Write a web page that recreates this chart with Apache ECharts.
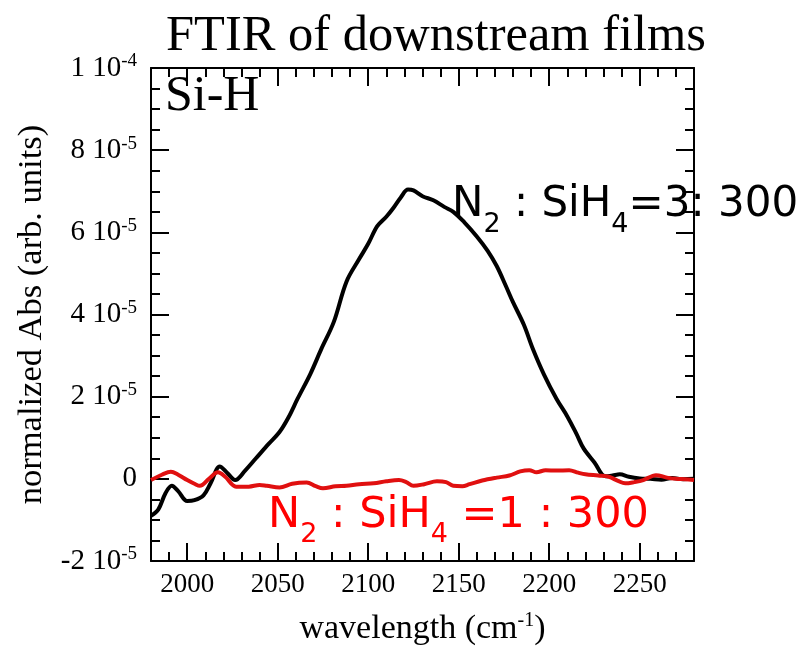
<!DOCTYPE html>
<html>
<head>
<meta charset="utf-8">
<script src="https://cdn.jsdelivr.net/npm/echarts@6/dist/echarts.min.js"></script>
<style>html,body{margin:0;padding:0;background:#fff;}#chart{width:812px;height:651px;}</style>
</head>
<body>
<div id="chart"></div>
<script>
// ---- data ----
const blackX = [1980, 1984, 1988, 1991.5, 1995, 2000, 2004, 2009, 2013, 2018, 2022, 2026.5, 2032, 2038, 2045, 2051, 2056, 2061, 2068, 2074, 2081, 2088, 2095, 2100, 2105, 2110, 2114, 2118, 2122, 2125, 2130, 2136, 2142, 2147, 2153, 2160, 2166, 2171, 2176, 2180, 2186, 2191, 2197, 2204, 2210, 2215, 2219, 2225, 2231, 2235, 2239, 2244, 2250, 2256, 2262, 2268, 2274, 2280];
const blackY = [-0.9e-5, -0.75e-5, -0.35e-5, -0.17e-5, -0.3e-5, -0.54e-5, -0.52e-5, -0.4e-5, -0.1e-5, 0.3e-5, 0.15e-5, -0.03e-5, 0.2e-5, 0.5e-5, 0.85e-5, 1.14e-5, 1.5e-5, 1.95e-5, 2.55e-5, 3.15e-5, 3.82e-5, 4.8e-5, 5.35e-5, 5.72e-5, 6.15e-5, 6.38e-5, 6.6e-5, 6.85e-5, 7.04e-5, 7.02e-5, 6.88e-5, 6.78e-5, 6.62e-5, 6.5e-5, 6.25e-5, 5.9e-5, 5.55e-5, 5.18e-5, 4.7e-5, 4.3e-5, 3.75e-5, 3.16e-5, 2.55e-5, 1.95e-5, 1.52e-5, 1.1e-5, 0.74e-5, 0.4e-5, 0.06e-5, 0.08e-5, 0.11e-5, 0.05e-5, 0.01e-5, 0.0, -0.02e-5, 0.02e-5, -0.01e-5, 0.0];
const redX = [1980, 1986, 1991, 1995, 2000, 2004, 2007, 2012, 2017, 2021, 2027, 2034, 2040, 2044, 2051, 2058, 2066, 2071, 2075, 2082, 2088, 2095, 2103, 2110, 2117, 2121, 2125, 2131, 2138, 2143, 2147, 2152, 2156, 2163, 2171, 2178, 2184, 2189, 2193, 2198, 2204, 2211, 2216, 2220, 2227, 2233, 2238, 2242, 2247, 2252, 2259, 2265, 2270, 2275, 2280];
const redY = [-0.03e-5, 0.1e-5, 0.17e-5, 0.1e-5, -0.03e-5, -0.12e-5, -0.17e-5, 0.0, 0.16e-5, 0.05e-5, -0.19e-5, -0.19e-5, -0.15e-5, -0.17e-5, -0.21e-5, -0.12e-5, -0.09e-5, -0.18e-5, -0.23e-5, -0.18e-5, -0.17e-5, -0.13e-5, -0.11e-5, -0.06e-5, -0.03e-5, -0.08e-5, -0.17e-5, -0.13e-5, -0.06e-5, -0.08e-5, -0.17e-5, -0.18e-5, -0.13e-5, -0.04e-5, 0.03e-5, 0.08e-5, 0.18e-5, 0.21e-5, 0.16e-5, 0.21e-5, 0.2e-5, 0.21e-5, 0.15e-5, 0.11e-5, 0.08e-5, 0.05e-5, -0.05e-5, -0.11e-5, -0.08e-5, -0.03e-5, 0.09e-5, 0.03e-5, 0.0, -0.01e-5, -0.03e-5];

const xMajorTicks = [2000, 2050, 2100, 2150, 2200, 2250];
const xMinorTicks = [1990, 2010, 2020, 2030, 2040, 2060, 2070, 2080, 2090, 2110, 2120, 2130, 2140, 2160, 2170, 2180, 2190, 2210, 2220, 2230, 2240, 2260, 2270];
const xTickLabels = ['2000', '2050', '2100', '2150', '2200', '2250'];
const yMajorTicks = [-2e-5, 0, 2e-5, 4e-5, 6e-5, 8e-5, 1e-4];
const yMinorTicks = [-1.5e-5, -1e-5, -0.5e-5, 0.5e-5, 1e-5, 1.5e-5, 2.5e-5, 3e-5, 3.5e-5, 4.5e-5, 5e-5, 5.5e-5, 6.5e-5, 7e-5, 7.5e-5, 8.5e-5, 9e-5, 9.5e-5];
const yTickMantissa = ['-2', '0', '2', '4', '6', '8', '1'];
const yTickExponent = ['-5', '', '-5', '-5', '-5', '-5', '-4'];

const titleText = 'FTIR of downstream films';
const xName = 'wavelength (cm';
const yName = 'normalized Abs (arb. units)';
const panelText = 'Si-H';

// ---- chart ----
const serif = '"Liberation Serif", "Times New Roman", serif';
const sans = '"DejaVu Sans", "Noto Sans", sans-serif';
const chart = echarts.init(document.getElementById('chart'), null, {renderer: 'canvas'});

function nearestIdx(arr, v) {
  let best = 0;
  for (let i = 1; i < arr.length; i++) if (Math.abs(arr[i] - v) < Math.abs(arr[best] - v)) best = i;
  return best;
}

const axisLineStyle = {color: '#000', width: 2};
const xBase = {type: 'value', min: 1980, max: 2280, gridIndex: 0, splitLine: {show: false}};
const yBase = {type: 'value', min: -2e-5, max: 1e-4, gridIndex: 0, splitLine: {show: false}};

const option = {
  backgroundColor: '#fff',
  animation: false,
  title: {
    text: titleText, left: 161, top: 6,
    textStyle: {fontFamily: serif, fontSize: 50.5, fontWeight: 'normal', color: '#000'}
  },
  grid: {left: 151, right: 118, top: 68, bottom: 88, containLabel: false},
  xAxis: [
    Object.assign({}, xBase, {
      position: 'bottom',
      axisLine: {show: true, onZero: false, lineStyle: axisLineStyle},
      axisTick: {show: true, inside: true, length: 18, lineStyle: {width: 2, color: '#000'}, customValues: xMajorTicks},
      axisLabel: {
        show: true, margin: 10, customValues: xMajorTicks,
        fontFamily: serif, fontSize: 27, color: '#000',
        formatter: v => xTickLabels[nearestIdx(xMajorTicks, v)]
      },
      name: xName + '{s|-1}{n|)}',
      nameLocation: 'middle', nameGap: 50,
      nameTextStyle: {
        fontFamily: serif, fontSize: 34, color: '#000',
        rich: {
          n: {fontFamily: serif, fontSize: 34, color: '#000'},
          s: {fontFamily: serif, fontSize: 20, color: '#000', verticalAlign: 'top', padding: [0, 0, 16, 0]}
        }
      }
    }),
    Object.assign({}, xBase, {
      position: 'bottom',
      axisLine: {show: false, onZero: false},
      axisTick: {show: true, inside: true, length: 9, lineStyle: {width: 2, color: '#000'}, customValues: xMinorTicks},
      axisLabel: {show: false}
    }),
    Object.assign({}, xBase, {
      position: 'top',
      axisLine: {show: true, onZero: false, lineStyle: axisLineStyle},
      axisTick: {show: true, inside: true, length: 18, lineStyle: {width: 2, color: '#000'}, customValues: xMajorTicks},
      axisLabel: {show: false}
    }),
    Object.assign({}, xBase, {
      position: 'top',
      axisLine: {show: false, onZero: false},
      axisTick: {show: true, inside: true, length: 9, lineStyle: {width: 2, color: '#000'}, customValues: xMinorTicks},
      axisLabel: {show: false}
    })
  ],
  yAxis: [
    Object.assign({}, yBase, {
      position: 'left',
      axisLine: {show: true, onZero: false, lineStyle: axisLineStyle},
      axisTick: {show: true, inside: true, length: 18, lineStyle: {width: 2, color: '#000'}, customValues: yMajorTicks},
      axisLabel: {
        show: true, margin: 14, customValues: yMajorTicks,
        formatter: v => {
          const i = nearestIdx(yMajorTicks, v);
          return yTickExponent[i] ? '{d|' + yTickMantissa[i] + ' 10}{e|' + yTickExponent[i] + '}' : '{d|' + yTickMantissa[i] + '}';
        },
        rich: {
          d: {fontFamily: serif, fontSize: 29, color: '#000', lineHeight: 32},
          e: {fontFamily: serif, fontSize: 19, color: '#000', verticalAlign: 'top', lineHeight: 32, padding: [0, 0, 12, 0]}
        }
      },
      name: yName, nameLocation: 'middle', nameGap: 100,
      nameTextStyle: {fontFamily: serif, fontSize: 34.5, color: '#000'}
    }),
    Object.assign({}, yBase, {
      position: 'left',
      axisLine: {show: false, onZero: false},
      axisTick: {show: true, inside: true, length: 9, lineStyle: {width: 2, color: '#000'}, customValues: yMinorTicks},
      axisLabel: {show: false}
    }),
    Object.assign({}, yBase, {
      position: 'right',
      axisLine: {show: true, onZero: false, lineStyle: axisLineStyle},
      axisTick: {show: true, inside: true, length: 18, lineStyle: {width: 2, color: '#000'}, customValues: yMajorTicks},
      axisLabel: {show: false}
    }),
    Object.assign({}, yBase, {
      position: 'right',
      axisLine: {show: false, onZero: false},
      axisTick: {show: true, inside: true, length: 9, lineStyle: {width: 2, color: '#000'}, customValues: yMinorTicks},
      axisLabel: {show: false}
    })
  ],
  series: [
    {
      name: 'N2 : SiH4 = 3 : 300', type: 'line', xAxisIndex: 0, yAxisIndex: 0,
      data: blackX.map((x, i) => [x, blackY[i]]),
      showSymbol: false, smooth: 0.35, clip: true,
      lineStyle: {color: '#000', width: 4}, z: 3
    },
    {
      name: 'N2 : SiH4 = 1 : 300', type: 'line', xAxisIndex: 0, yAxisIndex: 0,
      data: redX.map((x, i) => [x, redY[i]]),
      showSymbol: false, smooth: 0.35, clip: true,
      lineStyle: {color: '#e01010', width: 4}, z: 4
    }
  ],
  graphic: [
    {
      type: 'text', left: 165, top: 72, z: 10,
      style: {text: panelText, font: '50px ' + serif, fill: '#000'}
    },
    {
      type: 'text', left: 452, top: 184, z: 10,
      style: {
        text: '{n|N}{s|2}{n| : SiH}{s|4}{n|=3: 300}',
        rich: {
          n: {fontFamily: sans, fontSize: 42, fill: '#000', lineHeight: 54, verticalAlign: 'top'},
          s: {fontFamily: sans, fontSize: 27, fill: '#000', lineHeight: 54, verticalAlign: 'bottom'}
        }
      }
    },
    {
      type: 'text', left: 268, top: 494, z: 10,
      style: {
        text: '{n|N}{s|2}{n| : SiH}{s|4}{n| =1 : 300}',
        rich: {
          n: {fontFamily: sans, fontSize: 43, fill: '#ff0000', lineHeight: 54, verticalAlign: 'top'},
          s: {fontFamily: sans, fontSize: 27, fill: '#ff0000', lineHeight: 54, verticalAlign: 'bottom'}
        }
      }
    }
  ]
};
chart.setOption(option);
</script>
</body>
</html>
